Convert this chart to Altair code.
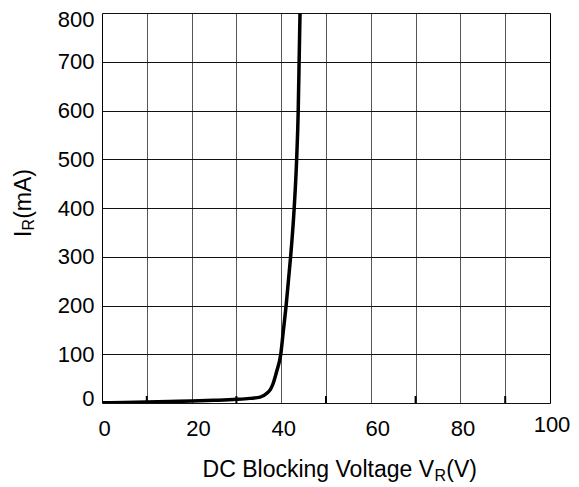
import altair as alt
import pandas as pd

# Curve (DC blocking voltage in V, reverse current in mA)
voltage = [0, 5, 10, 15, 20, 25, 30, 33, 35.3, 36.8, 37.6, 38.2, 39.0, 39.9, 40.5, 41.1, 41.6, 42.1, 42.9, 43.45, 43.8, 44.0, 44.2]
current = [0.5, 1, 2, 3, 4, 5.5, 7.5, 9.5, 12, 20, 28, 40, 65, 100, 150, 200, 250, 300, 400, 500, 600, 700, 800]

x_ticks = list(range(0, 101, 10))
y_ticks = list(range(0, 801, 100))
minor_ticks = [10, 30, 50, 70, 90]

x_title = ["DC Blocking Voltage V", "R", "(V)"]
y_title = ["I", "R", "(mA)"]

df = pd.DataFrame({"V": voltage, "I": current})

W, H = 448, 390
FONT = "Liberation Sans"

x_axis = alt.Axis(
    values=x_ticks,
    labelExpr="datum.value % 20 == 0 ? datum.label : ''",
    grid=True,
    gridColor={"condition": {"test": "datum.value == 0 || datum.value == 100", "value": "black"}, "value": "#555555"},
    gridWidth=1,
    domain=False,
    ticks=False,
    tickSize=0,
    labelFontSize=22,
    labelFont=FONT,
    labelColor="black",
    labelFlush=False,
    labelOverlap=False,
    labelPadding={"condition": {"test": "datum.value == 100", "value": 11.5}, "value": 15.4},
    labelOffset={"condition": [{"test": "datum.value == 100", "value": 1.5},
                               {"test": "datum.value == 20 || datum.value == 60", "value": 6.5}], "value": 2},
    title=None,
)

y_axis = alt.Axis(
    values=y_ticks,
    grid=True,
    gridColor="#111111",
    gridWidth=1,
    domain=False,
    ticks=False,
    tickSize=0,
    labelFontSize=22,
    labelFont=FONT,
    labelColor="black",
    labelFlush=False,
    labelOverlap=False,
    labelPadding=8,
    labelOffset={"condition": [{"test": "datum.value == 0", "value": -5},
                               {"test": "datum.value == 800", "value": 6.5}], "value": 0},
    title=None,
)

x_scale = alt.Scale(domain=[0, 100], nice=False, zero=True)

line = alt.Chart(df).mark_line(
    color="black", strokeWidth=3.5, interpolate="monotone", clip=True
).encode(
    x=alt.X("V:Q", scale=x_scale, axis=x_axis),
    y=alt.Y("I:Q", scale=alt.Scale(domain=[0, 800], nice=False), axis=y_axis),
)

minor = alt.Chart(pd.DataFrame({"t": minor_ticks})).mark_rule(
    color="black", strokeWidth=2
).encode(
    x=alt.X("t:Q", scale=x_scale, axis=x_axis),
    y=alt.value(H),
    y2=alt.value(H - 7),
)


def txt(s, x, y, size, align, angle=0):
    return alt.Chart(pd.DataFrame({"s": [s]})).mark_text(
        align=align, baseline="alphabetic", fontSize=size, font=FONT,
        angle=angle, color="black"
    ).encode(x=alt.value(x), y=alt.value(y), text="s:N")


layers = [
    line,
    minor,
    txt(x_title[0], 332, 463.7, 23, "right"),
    txt(x_title[1], 332.5, 467.5, 16, "left"),
    txt(x_title[2], 344.3, 463.7, 23, "left"),
    txt(y_title[0], -71, 224, 23, "left", 270),
    txt(y_title[1], -68, 217.4, 16, "left", 270),
    txt(y_title[2], -71, 205.8, 23, "left", 270),
]

chart = alt.layer(*layers).properties(
    width=W,
    height=H,
    padding={"left": 94, "top": 5, "right": 21, "bottom": 79},
    autosize=alt.AutoSizeParams(type="none"),
).configure_view(
    stroke="black", strokeWidth=2
).configure(background="white")

chart.save("out.html", embed_options={"renderer": "svg", "actions": False})
